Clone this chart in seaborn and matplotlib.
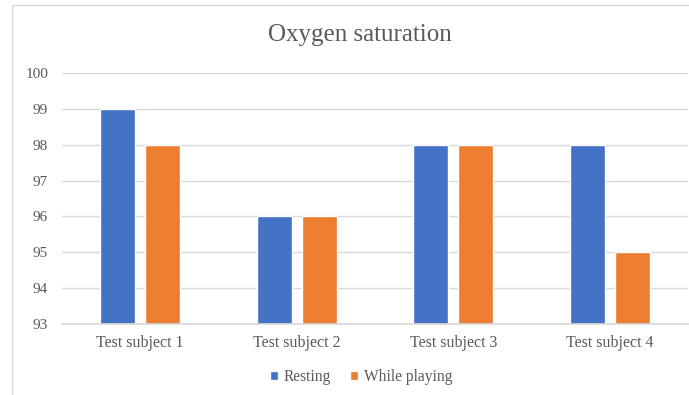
import matplotlib
matplotlib.use("Agg")
import matplotlib.pyplot as plt
import seaborn as sns
import pandas as pd
from matplotlib.patches import Rectangle

categories = ["Test subject 1", "Test subject 2", "Test subject 3", "Test subject 4"]
resting = [99, 96, 98, 98]
while_playing = [98, 96, 98, 95]
series_names = ["Resting", "While playing"]
yticks = [93, 94, 95, 96, 97, 98, 99, 100]

df = pd.DataFrame({
    "subject": categories * 2,
    "value": resting + while_playing,
    "series": [series_names[0]] * 4 + [series_names[1]] * 4,
})

sns.set_theme(style="white")
plt.rcParams["font.family"] = ["Liberation Serif", "DejaVu Serif"]

text_color = "#595959"
grid_color = "#D9D9D9"

fig = plt.figure(figsize=(6.89, 3.95), dpi=100)
fig.patches.append(Rectangle((12 / 689, -0.1), 1.2, 1 - 5 / 395 + 0.1,
                             transform=fig.transFigure, fill=False,
                             edgecolor=grid_color, linewidth=1.0))
ax = fig.add_axes([62 / 689, 1 - 324 / 395, 626 / 689, (324 - 73) / 395])

sns.barplot(data=df, x="subject", y="value", hue="series", ax=ax,
            palette=["#4472C4", "#ED7D31"], width=0.575, gap=0.222,
            saturation=1, legend=True)

ax.set_ylim(93, 100)
ax.set_xlim(-0.5, 3.5)
ax.set_yticks(yticks)
ax.set_yticklabels([str(t) for t in yticks])
ax.yaxis.grid(True, color=grid_color, linewidth=1.0)
ax.set_axisbelow(True)
for s in ["left", "right", "top"]:
    ax.spines[s].set_visible(False)
ax.spines["bottom"].set_color(grid_color)
ax.tick_params(axis="both", length=0, colors=text_color)
ax.tick_params(axis="y", pad=10, labelsize=11)
ax.tick_params(axis="x", pad=8, labelsize=11.5)
ax.set_xlabel("")
ax.set_ylabel("")

fig.text(0.523, 1 - 35 / 395, "Oxygen saturation", ha="center", va="center",
         fontsize=18, color=text_color)

handles, labels = ax.get_legend_handles_labels()
ax.legend(handles, labels, loc="center", ncol=2, frameon=False,
          fontsize=11.2, labelcolor=text_color, handlelength=0.55, handleheight=0.55,
          handletextpad=0.35, columnspacing=1.2)
leg = ax.get_legend()
leg.set_bbox_to_anchor((0.524, 1 - 377 / 395), transform=fig.transFigure)

fig.savefig("out.png", dpi=100)
